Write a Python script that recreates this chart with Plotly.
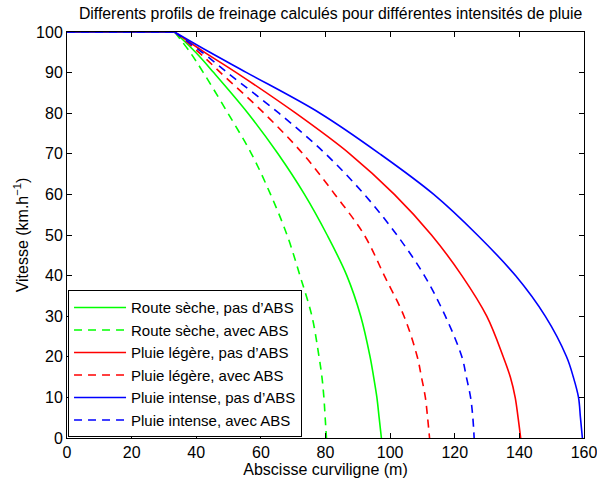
import plotly.graph_objects as go

# Speed levels (km/h) at which the curves were read
speed = [100, 100, 95, 90, 80, 70, 60, 50, 40, 30, 20, 15, 10, 5, 0]

# Curvilinear abscissa (m) for each profile
sec_sans_abs = [0, 33.3, 39.8, 45.4, 56.0, 65.3, 73.5, 80.5, 86.6, 90.9, 93.8, 94.9, 95.9, 96.6, 97.3]
sec_avec_abs = [0, 33.3, 38.1, 42.2, 49.8, 57.1, 63.0, 68.1, 72.1, 75.8, 78.0, 78.9, 79.5, 79.9, 80.3]
legere_sans_abs = [0, 33.3, 42.6, 52.4, 70.8, 87.5, 101.3, 112.8, 122.2, 129.9, 135.0, 137.2, 138.7, 139.6, 140.4]
legere_avec_abs = [0, 33.3, 40.8, 47.5, 61.0, 73.0, 82.9, 92.0, 98.2, 104.3, 108.4, 109.7, 110.9, 111.6, 112.2]
intense_sans_abs = [0, 33.3, 44.2, 55.6, 78.3, 96.8, 113.5, 127.0, 138.8, 148.0, 154.6, 156.7, 158.3, 158.9, 159.5]
intense_avec_abs = [0, 33.3, 41.8, 49.6, 65.6, 80.0, 92.0, 102.1, 110.6, 117.1, 122.2, 123.6, 124.9, 125.6, 126.0]

series = [
    ("Route sèche, pas d’ABS", sec_sans_abs, "#00FF00", "solid"),
    ("Route sèche, avec ABS", sec_avec_abs, "#00FF00", "8px,6px"),
    ("Pluie légère, pas d’ABS", legere_sans_abs, "#FF0000", "solid"),
    ("Pluie légère, avec ABS", legere_avec_abs, "#FF0000", "8px,6px"),
    ("Pluie intense, pas d’ABS", intense_sans_abs, "#0000FF", "solid"),
    ("Pluie intense, avec ABS", intense_avec_abs, "#0000FF", "8px,6px"),
]

FONT = "Liberation Sans, Arial, Helvetica, sans-serif"

fig = go.Figure()
for i, (name, xs, color, dash) in enumerate(series):
    # reaction phase (constant speed), drawn without smoothing
    fig.add_trace(go.Scatter(
        x=xs[:2], y=speed[:2], mode="lines", legendgroup=f"g{i}", showlegend=False,
        line=dict(color=color, width=1.6, dash=dash), hoverinfo="skip",
    ))
    # braking phase, smoothed
    fig.add_trace(go.Scatter(
        x=xs[1:], y=speed[1:], mode="lines", name=name, legendgroup=f"g{i}",
        line=dict(color=color, width=1.6, dash=dash, shape="spline", smoothing=1.0),
    ))

axis_common = dict(
    showgrid=False, zeroline=False, automargin=False,
    showline=True, linecolor="black", linewidth=1, mirror="ticks",
    ticks="inside", ticklen=5, tickcolor="black", tickwidth=1,
    ticklabeloverflow="allow",
    tickfont=dict(family=FONT, size=16, color="black"),
)

fig.update_layout(
    width=597, height=483,
    margin=dict(l=67, r=13, t=32, b=45),
    paper_bgcolor="white", plot_bgcolor="white",
    font=dict(family=FONT, color="black"),
    title=dict(
        text="Differents profils de freinage calculés pour différentes intensités de pluie",
        font=dict(family=FONT, size=15.8, color="black"),
        xref="paper", x=0.51, xanchor="center",
        yref="container", y=1 - 13 / 483, yanchor="middle",
        automargin=False,
    ),
    xaxis=dict(
        range=[0, 160], tickvals=[0, 20, 40, 60, 80, 100, 120, 140, 160],
        title=dict(text="Abscisse curviligne (m)", font=dict(family=FONT, size=16), standoff=2),
        **axis_common,
    ),
    yaxis=dict(
        range=[0, 100], tickvals=[0, 10, 20, 30, 40, 50, 60, 70, 80, 90, 100],
        title=dict(text="Vitesse (km.h<sup>−1</sup>)", font=dict(family=FONT, size=16), standoff=3),
        **axis_common,
    ),
    legend=dict(
        x=0.002, y=0.002, xanchor="left", yanchor="bottom",
        bgcolor="white", bordercolor="black", borderwidth=1,
        font=dict(family=FONT, size=15, color="black"),
        tracegroupgap=0, itemwidth=52,
    ),
    showlegend=True,
)

fig.write_html("out.html", config={"displayModeBar": False},
               post_script="document.body.style.margin='0';")
